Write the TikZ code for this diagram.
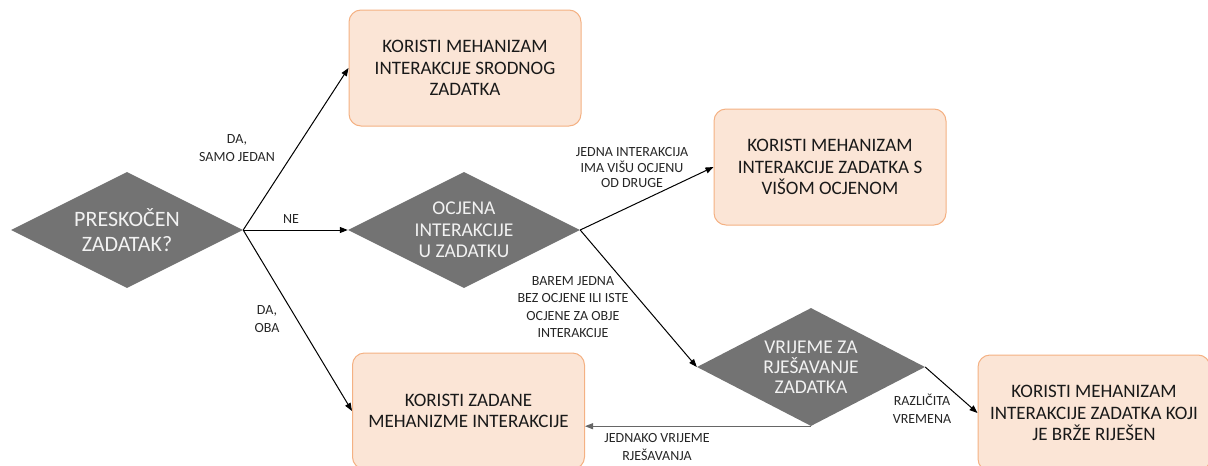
\documentclass[tikz,border=0pt]{standalone}
\usepackage{fontspec}
\setmainfont{Carlito}
\usetikzlibrary{shapes.geometric,arrows.meta}
\definecolor{boxfill}{HTML}{FBE5D6}
\definecolor{boxline}{HTML}{F4B183}
\definecolor{diafill}{HTML}{737373}
\definecolor{diatxt}{HTML}{F2F2F2}
\tikzset{
  x=1pt,y=1pt,
  dia/.style={diamond,draw=none,fill=diafill,minimum width=232pt,minimum height=116pt,inner sep=0pt},
  diatext/.style={text=diatxt,align=center,font=\fontsize{19.5}{21.5}\selectfont},
  box/.style={rectangle,rounded corners=12pt,draw=boxline,line width=1pt,fill=boxfill,minimum width=232pt,minimum height=116pt,align=center,font=\fontsize{19}{21.5}\selectfont,text=black!90},
  lbl/.style={align=center,font=\fontsize{14}{17.5}\selectfont,text=black!85,inner sep=0pt},
  arr/.style={-{Triangle[length=8pt,width=6pt]},line width=1pt,black},
  garr/.style={-{Triangle[length=8pt,width=6pt]},line width=1pt,black!60}
}
\begin{document}
\begin{tikzpicture}
\useasboundingbox (0,0) rectangle (1208,-466);
\begin{scope}
\clip (0,0) rectangle (1208,-466);
% diamonds
\node[dia] (d1) at (127,-230) {};
\node[diatext,font=\fontsize{22}{25}\selectfont] (t1) at (d1) {PRESKOČEN\\ZADATAK?};
\node[dia] (d2) at (464,-230) {};
\node[diatext] (t2) at (d2) {OCJENA\\INTERAKCIJE\\U ZADATKU};
\node[dia,minimum width=228pt,minimum height=118pt] (d3) at (811,-367) {};
\node[diatext,font=\fontsize{19.5}{20}\selectfont] (t3) at (d3) {VRIJEME ZA\\RJEŠAVANJE\\ZADATKA};
% boxes
\node[box] (b1) at (465,-68) {KORISTI MEHANIZAM\\INTERAKCIJE SRODNOG\\ZADATKA};
\node[box] (b2) at (830,-167) {KORISTI MEHANIZAM\\INTERAKCIJE ZADATKA S\\VIŠOM OCJENOM};
\node[box] (b3) at (468.5,-411) {KORISTI ZADANE\\MEHANIZME INTERAKCIJE};
\node[box] (b4) at (1094,-413) {KORISTI MEHANIZAM\\INTERAKCIJE ZADATKA KOJI\\JE BRŽE RIJEŠEN};
% connectors
\draw[arr] (d1.east) -- (b1.west);
\draw[arr] (d1.east) -- (d2.west);
\draw[arr] (d1.east) -- (b3.west);
\draw[arr] (d2.east) -- (b2.west);
\draw[arr] (d2.east) -- (d3.west);
\draw[arr] (d3.east) -- (b4.west);
\coordinate (c1) at (b3.east |- d3.south);
\draw[garr] (d3.south) -- (c1);
% labels
\node[lbl] (l1) at (237,-148) {DA,\\SAMO JEDAN};
\node[lbl] (l2) at (291,-219) {NE};
\node[lbl] (l3) at (267,-319) {DA,\\OBA};
\node[lbl,font=\fontsize{14}{15.5}\selectfont] (l4) at (632,-168) {JEDNA INTERAKCIJA\\IMA VIŠU OCJENU\\OD DRUGE};
\node[lbl] (l5) at (573,-307) {BAREM JEDNA\\BEZ OCJENE ILI ISTE\\OCJENE ZA OBJE\\INTERAKCIJE};
\node[lbl] (l6) at (922,-409) {RAZLIČITA\\VREMENA};
\node[lbl] (l7) at (657,-447) {JEDNAKO VRIJEME\\RJEŠAVANJA};
\end{scope}
\end{tikzpicture}
\end{document}
